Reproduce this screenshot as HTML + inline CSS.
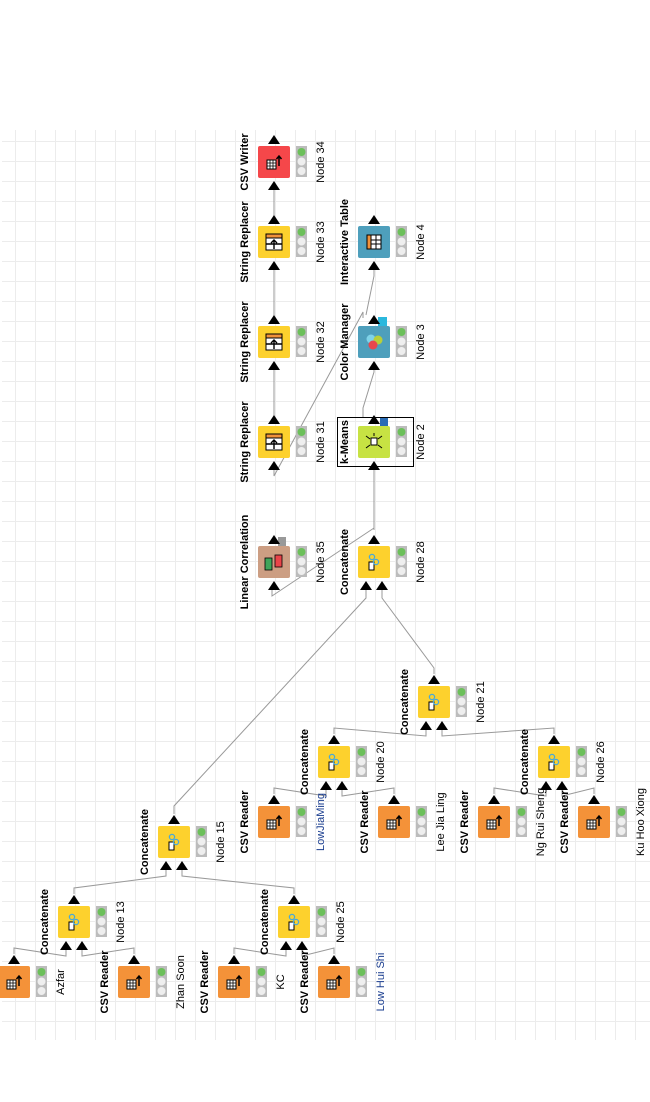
<!DOCTYPE html>
<html><head><meta charset="utf-8">
<style>
html,body{margin:0;padding:0;background:#fff;width:650px;height:1102px;overflow:hidden}
svg text{font-family:"Liberation Sans",sans-serif;font-size:11px}
</style></head>
<body>
<svg id="s" width="650" height="1102" xmlns="http://www.w3.org/2000/svg"></svg>
<script>
var s=document.getElementById('s');var h='';
h+='<g stroke="#ececec" stroke-width="1">';
for(var x=15.5;x<650;x+=20)h+='<line x1="'+x+'" y1="130" x2="'+x+'" y2="1040"/>';
for(var y=141.5;y<1040;y+=20)h+='<line x1="2" y1="'+y+'" x2="650" y2="'+y+'"/>';
h+='</g>';
var lines='';
function pl(pts){lines+='<polyline fill="none" stroke="#999" stroke-width="1" points="'+pts+'"/>';}
function con(sx,sy,tx,ty,ip){
 var ox=sx+16, oy=sy-12;
 var ix = ip==null? tx+16 : (ip==0? tx+8 : tx+24);
 var iy=ty+44;
 pl(ox+','+oy+' '+ox+','+(oy-6)+' '+ix+','+(iy+6)+' '+ix+','+iy);
}
var nodes='';
function tri(x,y){return '<polygon points="'+(x-6)+','+(y+9)+' '+(x+6)+','+(y+9)+' '+x+','+y+'" fill="#000"/>';}
function node(x,y,type,name,lab,labc,ins){
 var c={r:'#f49239',y:'#fdd12d',w:'#f5474a',t:'#4e9fbc',c:'#4e9fbc',k:'#c7e243',l:'#cc9e83'}[type];
 var g='';
 g+='<rect x="'+x+'" y="'+y+'" width="32" height="32" rx="2" fill="'+c+'"/>';
 if(type=='r'||type=='w'){g+='<rect x="'+(x+9)+'" y="'+(y+14)+'" width="9" height="9" fill="#fff" stroke="#000" stroke-width="1"/><path d="M'+(x+12)+' '+(y+14)+'v9M'+(x+15)+' '+(y+14)+'v9M'+(x+9)+' '+(y+17)+'h9M'+(x+9)+' '+(y+20)+'h9" stroke="#000" stroke-width="0.8"/><path d="M'+(x+21)+' '+(y+20)+'v-9M'+(x+18.5)+' '+(y+13)+'l2.5,-3l2.5,3" stroke="#000" stroke-width="1.5" fill="none"/>';}
 if(type=='y'&&name=='String Replacer'){g+='<rect x="'+(x+8)+'" y="'+(y+8)+'" width="16" height="16" fill="#fff" stroke="#000"/><rect x="'+(x+8)+'" y="'+(y+8)+'" width="16" height="4" fill="#f0913a" stroke="#000"/><path d="M'+(x+16)+' '+(y+23)+'v-9M'+(x+13)+' '+(y+17)+'l3,-3l3,3M'+(x+8)+' '+(y+18)+'h16" stroke="#000" stroke-width="1.4" fill="none"/>';}
 if(type=='y'&&name=='Concatenate'){g+='<rect x="'+(x+11)+'" y="'+(y+16)+'" width="5" height="8" fill="#fff" stroke="#000"/><circle cx="'+(x+14)+'" cy="'+(y+11)+'" r="2.6" fill="none" stroke="#4aa8d8" stroke-width="1.3"/><circle cx="'+(x+18)+'" cy="'+(y+16)+'" r="2.6" fill="none" stroke="#4aa8d8" stroke-width="1.3"/>';}
 if(type=='t'){g+='<rect x="'+(x+9)+'" y="'+(y+9)+'" width="14" height="14" fill="#fff" stroke="#000"/><rect x="'+(x+9)+'" y="'+(y+9)+'" width="4" height="14" fill="#f0913a" stroke="#000"/><path d="M'+(x+18)+' '+(y+9)+'v14M'+(x+13)+' '+(y+14)+'h10M'+(x+13)+' '+(y+18)+'h10" stroke="#000"/>';}
 if(type=='c'){g+='<circle cx="'+(x+13)+'" cy="'+(y+13)+'" r="4.5" fill="#7fd3e8"/><circle cx="'+(x+20)+'" cy="'+(y+14)+'" r="4.5" fill="#b8cf3a"/><circle cx="'+(x+15)+'" cy="'+(y+19)+'" r="4.5" fill="#e8464d"/>';
  g+='<rect x="'+(x+20)+'" y="'+(y-9)+'" width="9" height="9" fill="#2bb8dd"/>';}
 if(type=='k'){g+='<rect x="'+(x+13)+'" y="'+(y+12)+'" width="6" height="7" fill="#fff" stroke="#000"/><path d="M'+(x+8)+' '+(y+10)+'l4,3M'+(x+24)+' '+(y+10)+'l-4,3M'+(x+8)+' '+(y+22)+'l4,-3M'+(x+24)+' '+(y+22)+'l-4,-3M'+(x+16)+' '+(y+7)+'v3" stroke="#000"/>';
  g+='<rect x="'+(x+22)+'" y="'+(y-9)+'" width="8" height="9" fill="#2a6db5"/>';}
 if(type=='l'){g+='<rect x="'+(x+7)+'" y="'+(y+12)+'" width="7" height="12" fill="#3fa45a" stroke="#000" stroke-width="0.8"/><rect x="'+(x+17)+'" y="'+(y+9)+'" width="7" height="12" fill="#e94449" stroke="#000" stroke-width="0.8"/><rect x="'+(x+20)+'" y="'+(y-9)+'" width="8" height="9" fill="#999"/>';}
 g+='<rect x="'+(x+38)+'" y="'+y+'" width="11" height="31" fill="#bcbcbc"/>';
 g+='<circle cx="'+(x+43.5)+'" cy="'+(y+6)+'" r="4" fill="#6cc05a"/><circle cx="'+(x+43.5)+'" cy="'+(y+15.5)+'" r="4" fill="#eee"/><circle cx="'+(x+43.5)+'" cy="'+(y+25)+'" r="4" fill="#eee"/>';
 g+=tri(x+16,y-11);
 if(ins==1)g+=tri(x+16,y+35);
 if(ins==2){g+=tri(x+8,y+35);g+=tri(x+24,y+35);}
 g+='<text transform="translate('+(x-10)+','+(y+16)+') rotate(-90)" text-anchor="middle" font-weight="bold">'+name+'</text>';
 g+='<text transform="translate('+(x+66)+','+(y+16)+') rotate(-90)" text-anchor="middle" fill="'+(labc||'#000')+'">'+lab+'</text>';
 nodes+=g;
}
node(258,146,'w','CSV Writer','Node 34','#000',1);
node(258,226,'y','String Replacer','Node 33','#000',1);
node(258,326,'y','String Replacer','Node 32','#000',1);
node(258,426,'y','String Replacer','Node 31','#000',1);
node(258,546,'l','Linear Correlation','Node 35','#000',1);
node(358,226,'t','Interactive Table','Node 4','#000',1);
node(358,326,'c','Color Manager','Node 3','#000',1);
node(358,426,'k','k-Means','Node 2','#000',1);
node(358,546,'y','Concatenate','Node 28','#000',2);
node(418,686,'y','Concatenate','Node 21','#000',2);
node(318,746,'y','Concatenate','Node 20','#000',2);
node(538,746,'y','Concatenate','Node 26','#000',2);
node(258,806,'r','CSV Reader','LowJiaMing','#1a3d8f',0);
node(378,806,'r','CSV Reader','Lee Jia Ling','#000',0);
node(478,806,'r','CSV Reader','Ng Rui Sheng','#000',0);
node(578,806,'r','CSV Reader','Ku Hoo Xiong','#000',0);
node(158,826,'y','Concatenate','Node 15','#000',2);
node(58,906,'y','Concatenate','Node 13','#000',2);
node(278,906,'y','Concatenate','Node 25','#000',2);
node(-2,966,'r','CSV Reader','Azfar','#000',0);
node(118,966,'r','CSV Reader','Zhan Soon','#000',0);
node(218,966,'r','CSV Reader','KC','#000',0);
node(318,966,'r','CSV Reader','Low Hui Shi','#1a3d8f',0);
pl('274,188 274,218');pl('274,268 274,318');pl('274,368 274,418');
pl('274,468 274,476 363,312 363,318');
pl('374,268 374,276 366,315');
pl('363,418 363,408 374,372 374,368');
pl('374,470 374,530');
pl('374,528 272,596 272,588');
pl('366,588 366,598 174,806 174,814');
pl('382,588 382,598 434,668 434,674');
con(318,746,418,686,0);con(538,746,418,686,1);
con(258,806,318,746,0);con(378,806,318,746,1);
con(478,806,538,746,0);con(578,806,538,746,1);
con(58,906,158,826,0);con(278,906,158,826,1);
con(-2,966,58,906,0);con(118,966,58,906,1);
con(218,966,278,906,0);con(318,966,278,906,1);
h+=lines+nodes;
h+='<rect x="337.5" y="417.5" width="76" height="49" fill="none" stroke="#000" stroke-width="1"/>';
s.innerHTML=h;
</script>
</body></html>
